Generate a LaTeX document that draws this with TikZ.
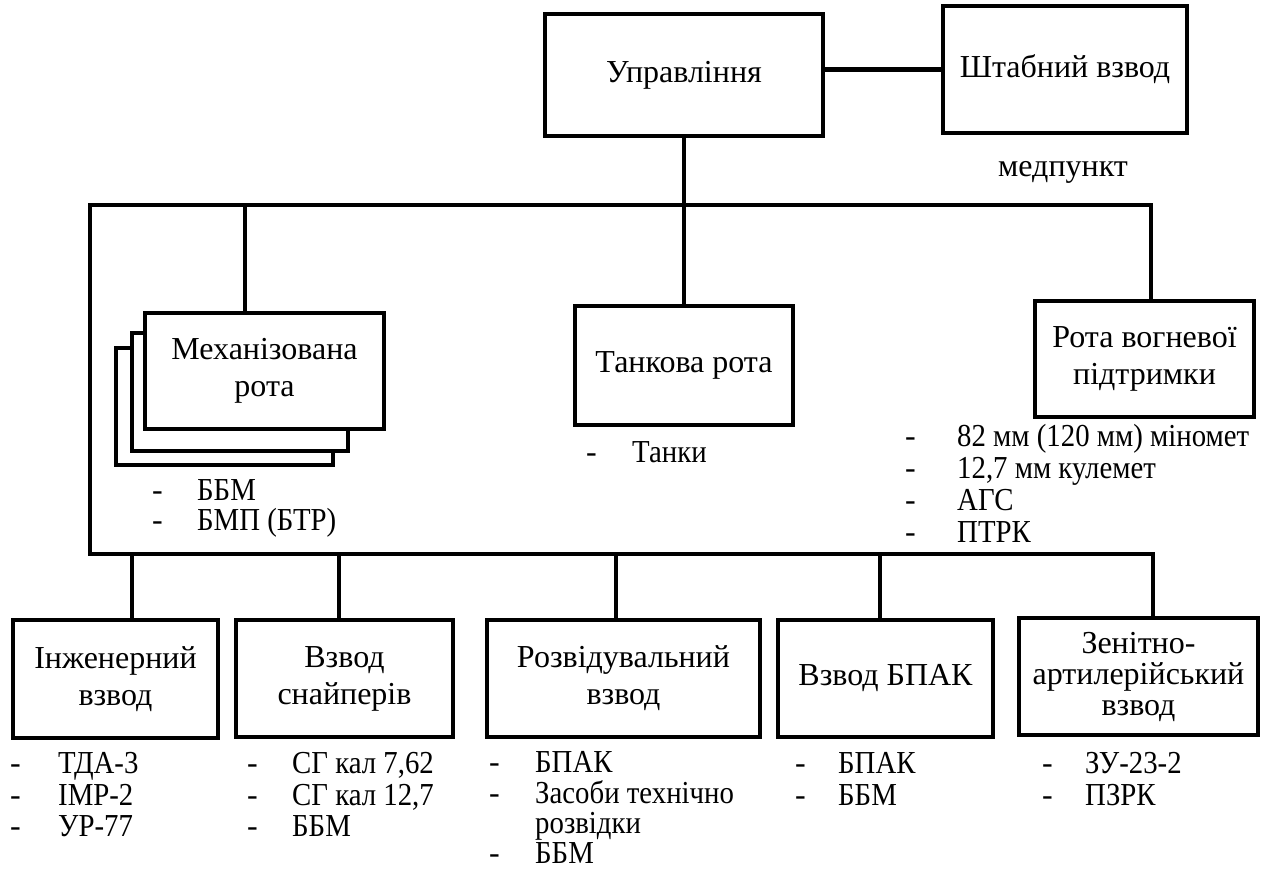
\documentclass[tikz,border=0pt]{standalone}
\usepackage{graphicx}
\usepackage{fontspec}
\setmainfont{Liberation Serif}
\newcommand\lsq[1]{\scalebox{0.9}[1]{#1}}
\begin{document}
\begin{tikzpicture}[x=1pt,y=-1pt,
  ln/.style={line width=4.3pt},
  box/.style={draw,line width=4.3pt,fill=white,inner sep=0pt,align=center,
    font=\fontsize{32}{37}\selectfont},
  lst/.style={anchor=base west,inner sep=0pt,font=\fontsize{32}{37}\selectfont}]
\useasboundingbox (0,0) rectangle (1266,868);

% top boxes
\node[box,minimum width=278pt,minimum height=122pt] (upr) at (684,75) {Управління};
\node[box,minimum width=244pt,minimum height=127pt] (shtab) at (1065,69.5) {Штабний взвод};
\node[anchor=base,inner sep=0pt,font=\fontsize{32}{37}\selectfont] (med) at (1063,176) {медпункт};

% middle row
\node[box,minimum width=217pt,minimum height=117pt] (mechc) at (224.5,406.5) {};
\node[box,minimum width=216pt,minimum height=118pt] (mechb) at (240,392) {};
\node[box,minimum width=239pt,minimum height=116pt] (mech) at (264.5,371) {Механізована\\рота};
\node[box,minimum width=218pt,minimum height=119pt] (tank) at (684,365.5) {Танкова рота};
\node[box,minimum width=219pt,minimum height=116pt] (rvp) at (1144.5,359) {Рота вогневої\\підтримки};

% bottom row
\node[box,minimum width=205pt,minimum height=118pt] (inzh) at (115.5,679) {Інженерний\\взвод};
\node[box,minimum width=217pt,minimum height=117pt] (snip) at (344.5,678.5) {Взвод\\снайперів};
\node[box,minimum width=273pt,minimum height=117pt] (rozv) at (623.5,678.5) {Розвідувальний\\взвод};
\node[box,minimum width=215pt,minimum height=117pt] (bpak) at (885.5,678.5) {Взвод БПАК};
\node[box,minimum width=239pt,minimum height=117pt,font=\fontsize{32}{31}\selectfont] (zen) at (1138.5,676.5) {Зенітно-\\артилерійський\\взвод};

% junction coordinates
\coordinate (tl) at (90,205);
\coordinate (tr) at (1151,205);
\coordinate (bl) at (90,554);
\coordinate (br) at (1153,554);
\coordinate (jm) at (245,205);
\coordinate (j1) at (132,554);
\coordinate (j2) at (339,554);
\coordinate (j3) at (616,554);
\coordinate (j4) at (880,554);

% connectors
\draw[ln] (upr.east |- shtab.west) -- (shtab.west);
\draw[ln] (upr.south) -- (tank.north);
\draw[ln] (tr |- rvp.north) -- (tr) -- (tl) -- (bl) -- (br) -- (br |- zen.north);
\draw[ln] (jm) -- (jm |- mech.north);
\draw[ln] (j1) -- (j1 |- inzh.north);
\draw[ln] (j2) -- (j2 |- snip.north);
\draw[ln] (j3) -- (j3 |- rozv.north);
\draw[ln] (j4) -- (j4 |- bpak.north);

% lists
\node[lst] (m1d) at (152,500) {-}; \node[lst] (m1) at (197,500) {\lsq{ББМ}};
\node[lst] (m2d) at (152,530) {-}; \node[lst] (m2) at (197,530) {\lsq{БМП (БТР)}};

\node[lst] (t1d) at (586,462) {-}; \node[lst] (t1) at (632,462) {\lsq{Танки}};

\node[lst] (r1d) at (905,446) {-}; \node[lst] (r1) at (957,446) {\lsq{82 мм (120 мм) міномет}};
\node[lst] (r2d) at (905,478) {-}; \node[lst] (r2) at (957,478) {\lsq{12,7 мм кулемет}};
\node[lst] (r3d) at (905,510) {-}; \node[lst] (r3) at (957,510) {\lsq{АГС}};
\node[lst] (r4d) at (905,542) {-}; \node[lst] (r4) at (957,542) {\lsq{ПТРК}};

\node[lst] (i1d) at (10,773) {-}; \node[lst] (i1) at (58,773) {\lsq{ТДА-3}};
\node[lst] (i2d) at (10,805) {-}; \node[lst] (i2) at (58,805) {\lsq{ІМР-2}};
\node[lst] (i3d) at (10,836) {-}; \node[lst] (i3) at (58,836) {\lsq{УР-77}};

\node[lst] (s1d) at (247,773) {-}; \node[lst] (s1) at (292,773) {\lsq{СГ кал 7,62}};
\node[lst] (s2d) at (247,805) {-}; \node[lst] (s2) at (292,805) {\lsq{СГ кал 12,7}};
\node[lst] (s3d) at (247,836) {-}; \node[lst] (s3) at (292,836) {\lsq{ББМ}};

\node[lst] (z1d) at (489,772) {-}; \node[lst] (z1) at (535,772) {\lsq{БПАК}};
\node[lst] (z2d) at (489,803) {-}; \node[lst] (z2) at (535,803) {\lsq{Засоби технічно}};
\node[lst] (z3) at (535,833) {\lsq{розвідки}};
\node[lst] (z4d) at (489,863) {-}; \node[lst] (z4) at (535,863) {\lsq{ББМ}};

\node[lst] (b1d) at (795,773) {-}; \node[lst] (b1) at (838,773) {\lsq{БПАК}};
\node[lst] (b2d) at (795,805) {-}; \node[lst] (b2) at (838,805) {\lsq{ББМ}};

\node[lst] (e1d) at (1042,773) {-}; \node[lst] (e1) at (1085,773) {\lsq{ЗУ-23-2}};
\node[lst] (e2d) at (1042,805) {-}; \node[lst] (e2) at (1085,805) {\lsq{ПЗРК}};
\end{tikzpicture}
\end{document}
